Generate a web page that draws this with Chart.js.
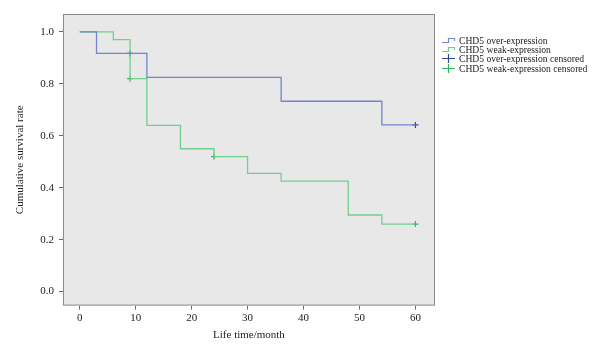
<!DOCTYPE html>
<html>
<head>
<meta charset="utf-8">
<script src="https://cdn.jsdelivr.net/npm/chart.js@4"></script>
<style>
  body { margin: 0; background: #fff; }
  #wrap { width: 607px; height: 348px; position: relative; }
  #legend {
    position: absolute; left: 441px; top: 36px;
    font-family: 'Liberation Serif', 'DejaVu Serif', serif;
    font-size: 9.6px; color: #222;
  }
  #legend .row { display: flex; align-items: center; height: 9.2px; white-space: nowrap; }
  #legend canvas { margin-right: 3px; }
</style>
</head>
<body>
<div id="wrap"><canvas id="km"></canvas><div id="legend"></div></div>
<script>
// survival steps: time (month) and cumulative survival after the event
const overTimes = [0, 3, 12, 36, 54, 60];
const overSurvival = [1.0, 0.917, 0.825, 0.733, 0.642, 0.642];
const weakTimes = [0, 6, 9, 12, 18, 24, 30, 36, 48, 54, 60];
const weakSurvival = [1.0, 0.97, 0.82, 0.64, 0.55, 0.52, 0.455, 0.425, 0.295, 0.26, 0.26];

// censored observations
const overCensoredTimes = [9, 60];
const overCensoredSurvival = [0.917, 0.642];
const weakCensoredTimes = [9, 24, 60];
const weakCensoredSurvival = [0.82, 0.52, 0.26];

const yTicks = [0, 0.2, 0.4, 0.6, 0.8, 1.0];
const xTicks = [0, 10, 20, 30, 40, 50, 60];

const blue = "#7383cc";
const blueDark = "#34479e";
const green = "#6fcf8c";
const greenDark = "#32b35a";
const serif = "'Liberation Serif', 'DejaVu Serif', serif";

function toPoints(xs, ys) {
  return xs.map((x, i) => ({ x: x, y: ys[i] }));
}

// little legend glyphs
function stepIcon(color) {
  const c = document.createElement("canvas");
  c.width = 15;
  c.height = 9;
  const g = c.getContext("2d");
  g.strokeStyle = color;
  g.lineWidth = 1.2;
  g.beginPath();
  g.moveTo(1, 6.5);
  g.lineTo(7.5, 6.5);
  g.lineTo(7.5, 2.5);
  g.lineTo(13.5, 2.5);
  g.lineTo(13.5, 5);
  g.stroke();
  return c;
}
function plusIcon(color) {
  const c = document.createElement("canvas");
  c.width = 15;
  c.height = 9;
  const g = c.getContext("2d");
  g.strokeStyle = color;
  g.lineWidth = 1.2;
  g.beginPath();
  g.moveTo(1, 4.5);
  g.lineTo(14, 4.5);
  g.moveTo(7.5, 0);
  g.lineTo(7.5, 9);
  g.stroke();
  return c;
}

const plotBox = {
  id: "plotBox",
  beforeDraw(chart) {
    const a = chart.chartArea;
    const ctx = chart.ctx;
    ctx.save();
    ctx.fillStyle = "#e8e8e8";
    ctx.fillRect(a.left, a.top, a.right - a.left, a.bottom - a.top);
    ctx.restore();
  },
  afterDraw(chart) {
    const a = chart.chartArea;
    const ctx = chart.ctx;
    ctx.save();
    ctx.strokeStyle = "#8a8a8a";
    ctx.lineWidth = 1;
    ctx.strokeRect(a.left + 0.5, a.top + 0.5, a.right - a.left - 1, a.bottom - a.top - 1);
    ctx.restore();
  },
};

const chart = new Chart(document.getElementById("km"), {
  type: "line",
  data: {
    datasets: [
      {
        label: "CHD5 over-expression",
        data: toPoints(overTimes, overSurvival),
        borderColor: blue,
        borderWidth: 1.3,
        stepped: true,
        pointRadius: 0,
        fill: false,
      },
      {
        label: "CHD5 weak-expression",
        data: toPoints(weakTimes, weakSurvival),
        borderColor: green,
        borderWidth: 1.3,
        stepped: true,
        pointRadius: 0,
        fill: false,
      },
      {
        label: "CHD5 over-expression censored",
        data: toPoints(overCensoredTimes, overCensoredSurvival),
        showLine: false,
        pointStyle: "cross",
        pointRadius: 3,
        pointBorderWidth: 1.2,
        borderColor: blueDark,
      },
      {
        label: "CHD5 weak-expression censored",
        data: toPoints(weakCensoredTimes, weakCensoredSurvival),
        showLine: false,
        pointStyle: "cross",
        pointRadius: 3,
        pointBorderWidth: 1.2,
        borderColor: greenDark,
      },
    ],
  },
  options: {
    responsive: true,
    maintainAspectRatio: false,
    animation: false,
    layout: { padding: { left: 14, right: 172, top: 14, bottom: 6 } },
    scales: {
      x: {
        type: "linear",
        min: -3,
        max: 63.5,
        afterBuildTicks: (scale) => {
          scale.ticks = xTicks.map((v) => ({ value: v }));
        },
        ticks: { color: "#222", font: { family: serif, size: 11 }, padding: 2 },
        grid: { drawOnChartArea: false, tickLength: 4, color: "#666" },
        border: { display: false },
        title: {
          display: true,
          text: "Life time/month",
          color: "#222",
          font: { family: serif, size: 11 },
          padding: { top: 2, bottom: 0 },
        },
      },
      y: {
        type: "linear",
        min: -0.054,
        max: 1.069,
        afterBuildTicks: (scale) => {
          scale.ticks = yTicks.map((v) => ({ value: v }));
        },
        ticks: {
          color: "#222",
          font: { family: serif, size: 11 },
          padding: 5,
          callback: (v) => v.toFixed(1),
        },
        grid: { drawOnChartArea: false, tickLength: 4, color: "#666" },
        border: { display: false },
        title: {
          display: true,
          text: "Cumulative survival rate",
          color: "#222",
          font: { family: serif, size: 11 },
          padding: { top: 0, bottom: 8 },
        },
      },
    },
    plugins: {
      legend: { display: false },
      tooltip: { enabled: false },
    },
  },
  plugins: [plotBox],
});

// legend built from the datasets
const icons = [stepIcon(blue), stepIcon(green), plusIcon(blueDark), plusIcon(greenDark)];
const legendEl = document.getElementById("legend");
chart.data.datasets.forEach((ds, i) => {
  const row = document.createElement("div");
  row.className = "row";
  row.appendChild(icons[i]);
  const span = document.createElement("span");
  span.textContent = ds.label;
  row.appendChild(span);
  legendEl.appendChild(row);
});
</script>
</body>
</html>
